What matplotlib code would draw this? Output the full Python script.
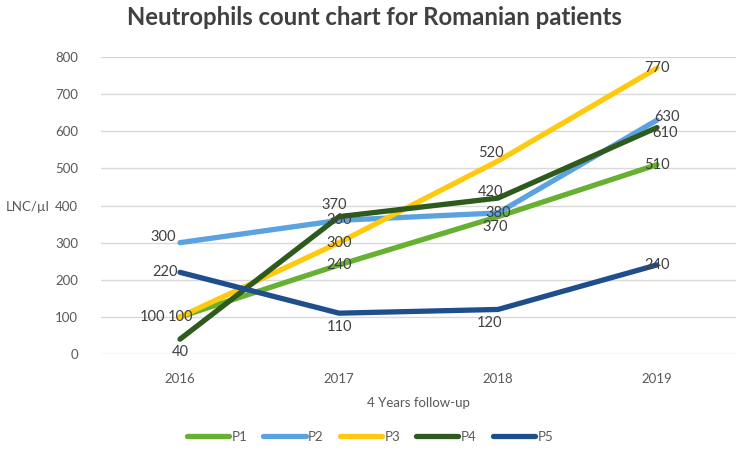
import matplotlib
matplotlib.use("Agg")
import matplotlib.pyplot as plt

years = ["2016", "2017", "2018", "2019"]
p1 = [100, 240, 370, 510]
p2 = [300, 360, 380, 630]
p3 = [100, 300, 520, 770]
p4 = [40, 370, 420, 610]
p5 = [220, 110, 120, 240]

names = ["P1", "P2", "P3", "P4", "P5"]
series = [p1, p2, p3, p4, p5]
colors = ["#66B032", "#5BA3E0", "#FFC90E", "#2F5A1E", "#1F4E8C"]

# label offsets in pixels, per series per point (Excel placed them by hand)
offsets = [
    [(-28, 0), (0, 0), (-3, -10), (0, 0)],
    [(-17, 6), (0, 0), (0, 0), (10, 3)],
    [(0, 0), (0, 0), (-7, 8), (0, 0)],
    [(0, -13), (-5, 12), (-7, 6), (8, -5)],
    [(-15, 0), (0, -14), (-8, -14), (0, 0)],
]

plt.rcParams["font.family"] = ["Lato", "DejaVu Sans"]
grey = "#404040"

fig = plt.figure(figsize=(7.48, 4.65), dpi=100)
ax = fig.add_axes([0.1344, 0.2387, 0.8502, 0.6387])

x = range(len(years))
for name, vals, col, offs in zip(names, series, colors, offsets):
    ax.plot(x, vals, color=col, lw=3.8, solid_capstyle="round", label=name)
    for xi, v, (dx, dy) in zip(x, vals, offs):
        ax.annotate(str(v), (xi, v), xytext=(dx, dy), textcoords="offset pixels",
                    ha="center", va="center", fontsize=10.5, color=grey)

ax.set_xlim(-0.5, 3.5)
ax.set_ylim(0, 800)
ax.set_yticks(range(0, 801, 100))
ax.set_xticks(list(x))
ax.set_xticklabels(years)
ax.grid(axis="y", color="#D9D9D9", lw=1)
ax.set_axisbelow(True)
for s in ["top", "right", "left", "bottom"]:
    ax.spines[s].set_visible(False)
ax.tick_params(length=0, labelsize=9.5, colors="#595959")
ax.tick_params(axis="y", pad=16)
ax.tick_params(axis="x", pad=14)

fig.text(0.5, 0.962, "Neutrophils count chart for Romanian patients", ha="center",
         va="center", fontsize=17.2, fontweight="bold", color=grey)
fig.text(0.008, 1 - 207 / 465, "LNC/µl", ha="left", va="center", fontsize=9.5, color="#595959")
fig.text(418 / 748, 1 - 403 / 465, "4 Years follow-up", ha="center", va="center",
         fontsize=9.5, color="#595959")

fig.legend(loc="center", bbox_to_anchor=(370 / 748, 1 - 437 / 465), ncol=5, frameon=False,
           fontsize=9.5, handlelength=3.2, columnspacing=1.2, handletextpad=0.2,
           labelcolor="#595959")

fig.savefig("out.png", dpi=100)
